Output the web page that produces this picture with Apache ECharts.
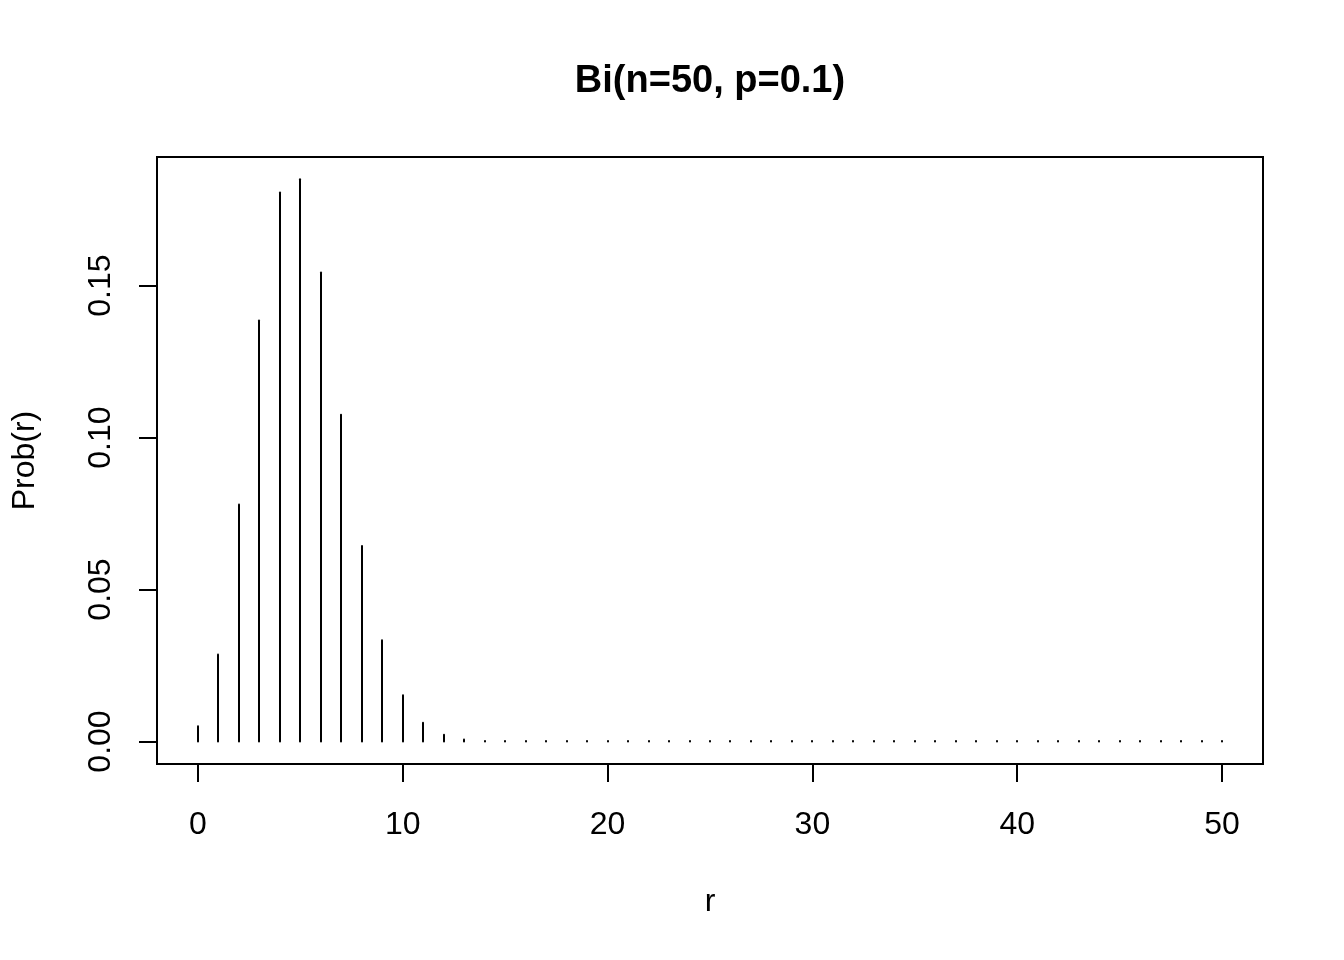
<!DOCTYPE html>
<html>
<head>
<meta charset="utf-8">
<script src="https://cdn.jsdelivr.net/npm/echarts@6/dist/echarts.min.js"></script>
<style>html,body{margin:0;padding:0;background:#fff}#c{width:1344px;height:960px}</style>
</head>
<body>
<div id="c"></div>
<script>
var rValues = [];
for (var i = 0; i <= 50; i++) rValues.push(i);
var probValues = [
  0.0050, 0.0286, 0.0780, 0.1385, 0.1806, 0.1850, 0.1543, 0.1075, 0.0643, 0.0333,
  0.0152, 0.0062, 0.0022, 0.0007, 0.0002, 0.0001, 0, 0, 0, 0,
  0, 0, 0, 0, 0, 0, 0, 0, 0, 0,
  0, 0, 0, 0, 0, 0, 0, 0, 0, 0,
  0, 0, 0, 0, 0, 0, 0, 0, 0, 0,
  0
];
var xTicks = [0, 10, 20, 30, 40, 50];
var yTicks = [0, 0.05, 0.10, 0.15];
var titleText = 'Bi(n=50, p=0.1)';
var xName = 'r';
var yName = 'Prob(r)';

var FONT = 'Liberation Sans, Arial, sans-serif';
var chart = echarts.init(document.getElementById('c'), null, {renderer: 'canvas'});
var data = rValues.map(function (r, i) { return [r, probValues[i]]; });

chart.setOption({
  animation: false,
  backgroundColor: '#fff',
  title: {
    text: titleText,
    left: 705,
    textAlign: 'center',
    top: 58,
    textStyle: {fontFamily: FONT, fontSize: 38, fontWeight: 'bold', color: '#000'}
  },
  grid: {
    left: 157, top: 157, width: 1106, height: 607,
    show: true, borderColor: '#000', borderWidth: 2, backgroundColor: 'transparent'
  },
  xAxis: {
    type: 'value', min: -2, max: 52,
    name: xName, nameLocation: 'middle', nameGap: 122,
    nameTextStyle: {fontFamily: FONT, fontSize: 32, color: '#000'},
    axisLine: {show: false, onZero: false},
    splitLine: {show: false},
    axisTick: {show: true, customValues: xTicks, length: 18, lineStyle: {color: '#000', width: 2}},
    axisLabel: {customValues: xTicks, fontFamily: FONT, fontSize: 32, color: '#000', margin: 45}
  },
  yAxis: {
    type: 'value', min: -0.0074, max: 0.1923,
    name: yName, nameLocation: 'middle', nameGap: 116,
    nameTextStyle: {fontFamily: FONT, fontSize: 32, color: '#000'},
    axisLine: {show: false, onZero: false},
    splitLine: {show: false},
    axisTick: {show: true, customValues: yTicks, length: 18, lineStyle: {color: '#000', width: 2}},
    axisLabel: {
      customValues: yTicks, rotate: 90, fontFamily: FONT, fontSize: 32, color: '#000', margin: 40,
      formatter: function (v) { return v.toFixed(2); }
    }
  },
  series: [{
    type: 'custom',
    data: data,
    clip: true,
    renderItem: function (params, api) {
      var x = api.value(0), y = api.value(1);
      var p0 = api.coord([x, 0]);
      var p1 = api.coord([x, y]);
      var px = Math.round(p0[0]);
      var y1 = p0[1], y2 = p1[1];
      if (Math.abs(y1 - y2) < 0.5) y2 = y1 - 0.5;
      return {
        type: 'line',
        shape: {x1: px, y1: y1, x2: px, y2: y2},
        style: {stroke: '#000', lineWidth: 2, lineCap: 'round'}
      };
    }
  }]
});
</script>
</body>
</html>
